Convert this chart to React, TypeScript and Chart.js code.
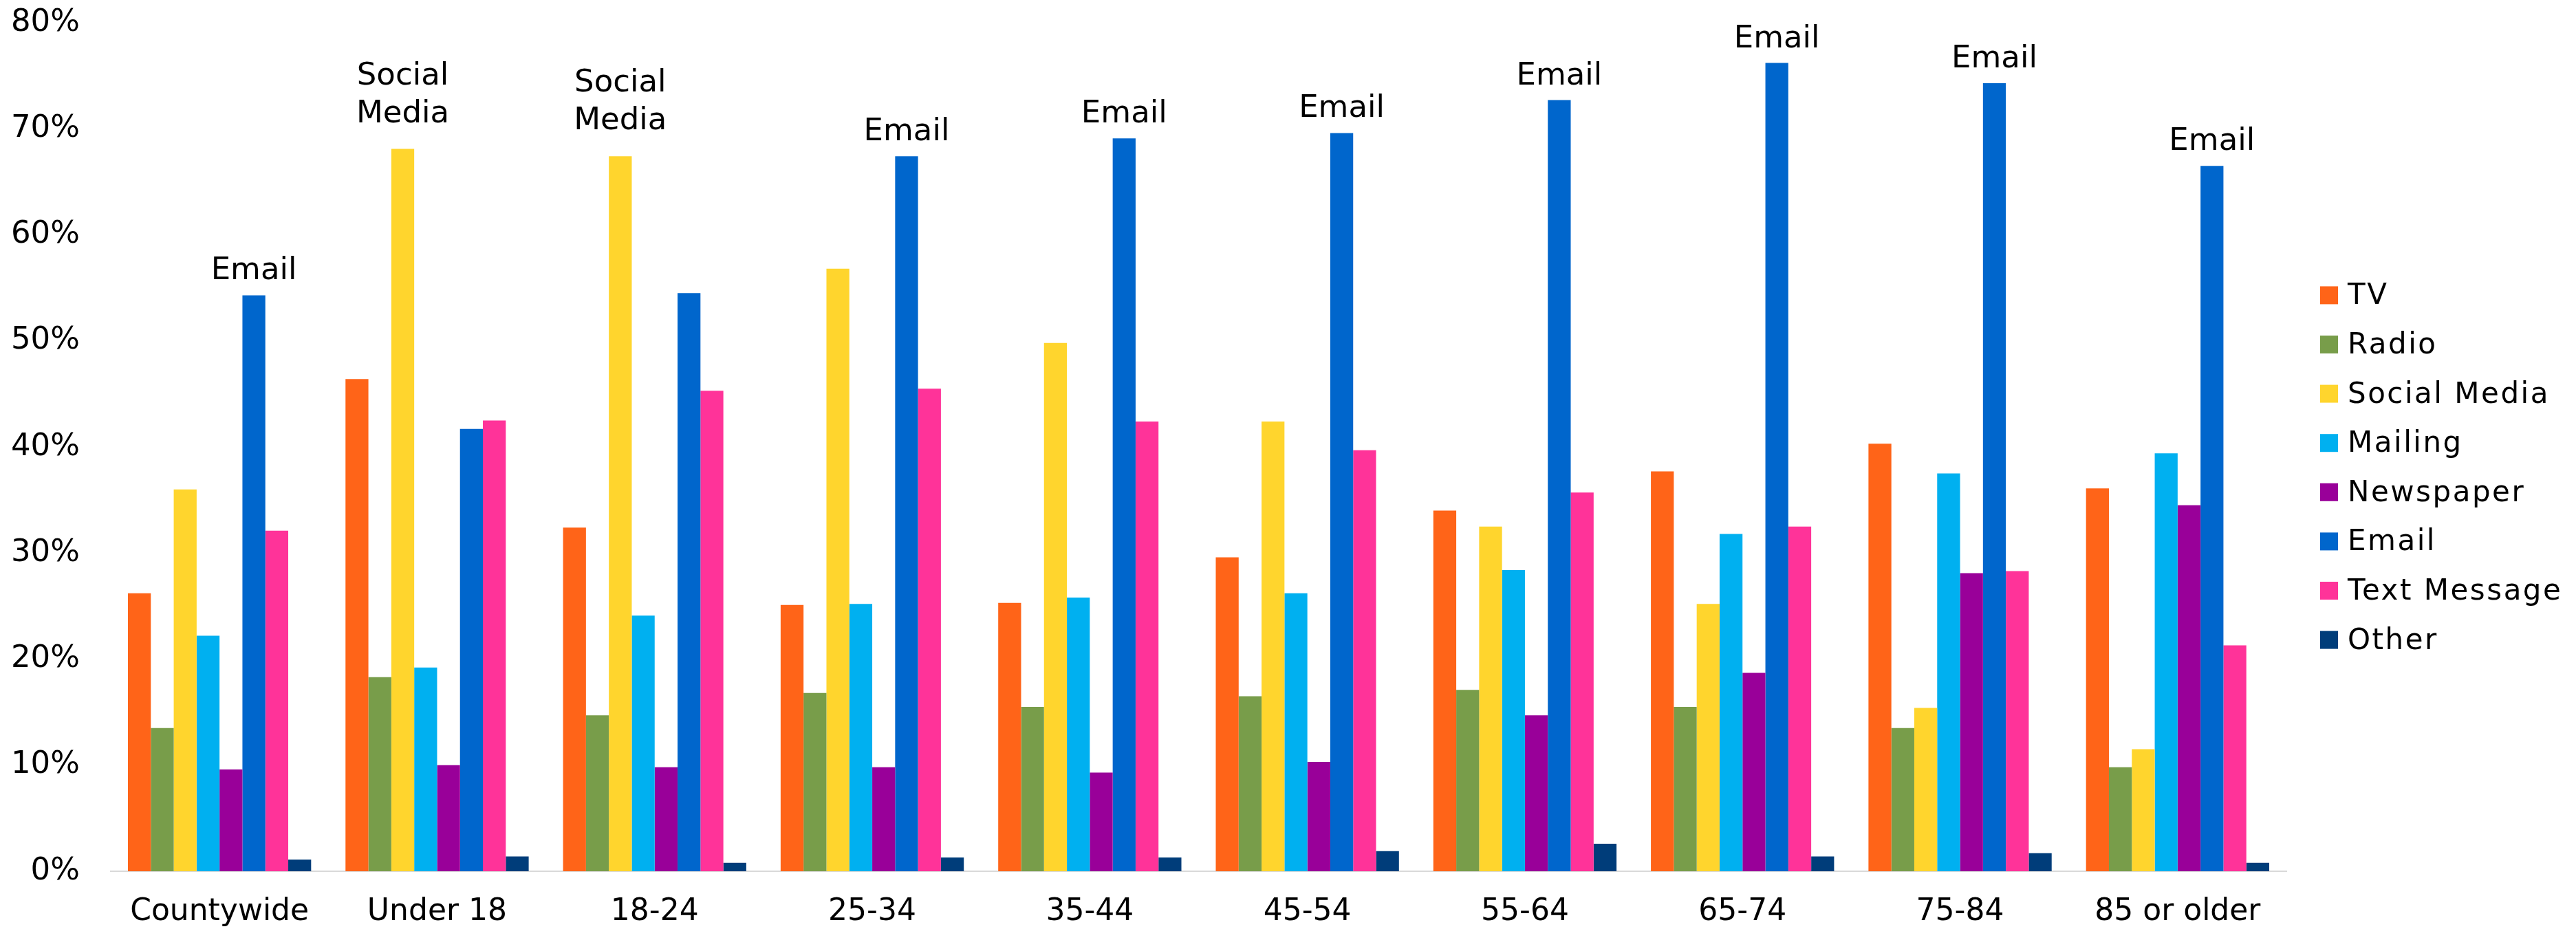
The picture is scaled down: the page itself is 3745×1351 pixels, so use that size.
import React, { useEffect, useRef } from 'react';
import { Chart, registerables } from 'chart.js';

Chart.register(...registerables);

const FONT = 'DejaVu Sans';

const categories = ['Countywide', 'Under 18', '18-24', '25-34', '35-44', '45-54', '55-64', '65-74', '75-84', '85 or older'];
const seriesNames = ['TV', 'Radio', 'Social Media', 'Mailing', 'Newspaper', 'Email', 'Text Message', 'Other'];
const seriesColors = ['#FF6418', '#789D4A', '#FFD52D', '#00B0F0', '#990099', '#0066CC', '#FF3399', '#003D7A'];

const tv = [26.2, 46.4, 32.4, 25.1, 25.3, 29.6, 34.0, 37.7, 40.3, 36.1];
const radio = [13.5, 18.3, 14.7, 16.8, 15.5, 16.5, 17.1, 15.5, 13.5, 9.8];
const socialMedia = [36.0, 68.1, 67.4, 56.8, 49.8, 42.4, 32.5, 25.2, 15.4, 11.5];
const mailing = [22.2, 19.2, 24.1, 25.2, 25.8, 26.2, 28.4, 31.8, 37.5, 39.4];
const newspaper = [9.6, 10.0, 9.8, 9.8, 9.3, 10.3, 14.7, 18.7, 28.1, 34.5];
const email = [54.3, 41.7, 54.5, 67.4, 69.1, 69.6, 72.7, 76.2, 74.3, 66.5];
const textMessage = [32.1, 42.5, 45.3, 45.5, 42.4, 39.7, 35.7, 32.5, 28.3, 21.3];
const other = [1.1, 1.4, 0.8, 1.3, 1.3, 1.9, 2.6, 1.4, 1.7, 0.8];

const seriesValues = [tv, radio, socialMedia, mailing, newspaper, email, textMessage, other];

const yMin = 0;
const yMax = 80;
const yStep = 10;

const topLabelPlugin = {
  id: 'topLabels',
  afterDatasetsDraw(chart: any) {
    const ctx = chart.ctx;
    const datasets = chart.data.datasets;
    ctx.save();
    ctx.font = `45px "${FONT}"`;
    ctx.fillStyle = '#000000';
    ctx.textAlign = 'center';
    ctx.textBaseline = 'alphabetic';
    chart.data.labels.forEach((_: any, i: number) => {
      let best = 0;
      datasets.forEach((ds: any, d: number) => {
        if (ds.data[i] > datasets[best].data[i]) best = d;
      });
      const bar = chart.getDatasetMeta(best).data[i];
      const lines = String(datasets[best].label).split(' ');
      const lh = 55;
      const bottom = bar.y - 23 - (lines.length - 1) * 16;
      lines.forEach((ln: string, k: number) => {
        ctx.fillText(ln, bar.x, bottom - (lines.length - 1 - k) * lh);
      });
    });
    ctx.restore();
  },
};

const sideLegendPlugin = {
  id: 'sideLegend',
  afterDraw(chart: any) {
    const ctx = chart.ctx;
    const area = chart.chartArea;
    const x0 = area.right + 49;
    const midY = (area.top + area.bottom) / 2 + 30;
    const step = 71.6;
    const box = 26;
    const n = chart.data.datasets.length;
    ctx.save();
    ctx.font = `42px "${FONT}"`;
    ctx.textAlign = 'left';
    ctx.textBaseline = 'alphabetic';
    try {
      (ctx as any).letterSpacing = '2.5px';
    } catch (e) {
      /* ignore */
    }
    chart.data.datasets.forEach((ds: any, i: number) => {
      const cy = midY + (i - (n - 1) / 2) * step;
      const baseY = cy + box / 2;
      ctx.fillStyle = ds.backgroundColor;
      ctx.fillRect(x0, baseY - box, box, box);
      ctx.fillStyle = '#000000';
      ctx.fillText(ds.label, x0 + 40, baseY);
    });
    ctx.restore();
  },
};

export default function App() {
  const canvasRef = useRef<HTMLCanvasElement | null>(null);

  useEffect(() => {
    const canvas = canvasRef.current;
    if (!canvas) return;
    const chart = new Chart(canvas, {
      type: 'bar',
      data: {
        labels: categories,
        datasets: seriesNames.map((name, i) => ({
          label: name,
          data: seriesValues[i],
          backgroundColor: seriesColors[i],
          borderWidth: 0,
          categoryPercentage: 0.842,
          barPercentage: 1.0,
        })),
      },
      options: {
        animation: false,
        responsive: false,
        maintainAspectRatio: false,
        layout: { padding: { top: 33, right: 421, bottom: 0, left: 0 } },
        plugins: {
          legend: { display: false },
          tooltip: { enabled: false },
          title: { display: false },
        },
        scales: {
          x: {
            grid: { display: false, drawTicks: false },
            border: { display: true, color: '#D9D9D9', width: 2 },
            ticks: {
              color: '#000000',
              font: { family: FONT, size: 44 },
              padding: 33,
              maxRotation: 0,
              autoSkip: false,
            },
            afterFit: (scale: any) => {
              scale.height = 84;
              scale.paddingLeft = 0;
              scale.paddingRight = 0;
            },
          },
          y: {
            min: yMin,
            max: yMax,
            grid: { display: false, drawTicks: false },
            border: { display: false },
            ticks: {
              stepSize: yStep,
              color: '#000000',
              font: { family: FONT, size: 45 },
              padding: 45,
              callback: (v: any) => `${v}%`,
            },
            afterFit: (scale: any) => {
              scale.width = 161;
              scale.paddingTop = 0;
              scale.paddingBottom = 0;
            },
          },
        },
      },
      plugins: [topLabelPlugin, sideLegendPlugin],
    });
    return () => chart.destroy();
  }, []);

  return (
    <canvas
      ref={canvasRef}
      width={3745}
      height={1351}
      style={{ position: 'absolute', left: 0, top: 0, width: '3745px', height: '1351px', display: 'block' }}
    />
  );
}
